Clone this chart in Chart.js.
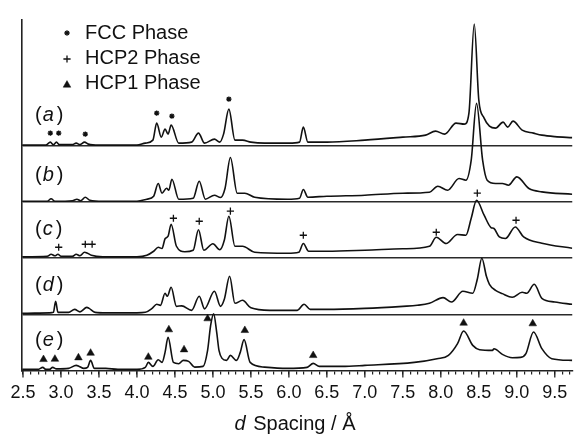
<!DOCTYPE html>
<html><head><meta charset="utf-8">
<script src="https://cdn.jsdelivr.net/npm/chart.js@4.4.1/dist/chart.umd.min.js"></script>
<style>html,body{margin:0;padding:0;background:#fff;}canvas{display:block;}</style>
</head><body>
<canvas id="c" width="578" height="434"></canvas>
<script>
// ---------- DATA (d spacing in Å, intensity in arbitrary units above each pattern's baseline) ----------
const patternNames = ['a', 'b', 'c', 'd', 'e'];
const patternOffsets = [224, 168, 112, 56, 0];       // stacking offset of each pattern
const separatorLevels = [56, 112, 168, 224];          // baselines drawn between patterns

const aD = [2.49,2.80,2.86,2.90,2.94,2.98,3.15,3.20,3.25,3.31,3.36,3.50,4.00,4.11,4.21,4.26,4.32,4.37,4.41,4.45,4.55,4.72,4.81,4.89,5.02,5.09,5.14,5.21,5.29,5.39,5.50,5.68,6.00,6.14,6.19,6.25,6.50,7.00,7.50,7.80,7.93,8.05,8.20,8.31,8.37,8.44,8.50,8.57,8.64,8.72,8.82,8.88,8.95,9.07,9.22,9.33,9.50,9.73];
const aI = [1,1,4,1.5,4,1.5,1.5,3,1.5,4,2,1,1,3,6,23,9,17,12,21,3,4,13,3,7,4,12,37,6,6,4,3,3,4,19,4,4,6,9,11,15,12,23,22,33,122,46,28,20,18,24,19,25,16,13,11,9.5,8.5];

const bD = [2.49,2.82,2.87,2.92,3.15,3.21,3.26,3.32,3.38,3.55,4.00,4.13,4.22,4.28,4.33,4.39,4.42,4.46,4.55,4.74,4.82,4.90,5.02,5.10,5.16,5.23,5.32,5.42,5.55,5.98,6.14,6.19,6.25,6.50,7.00,7.50,7.85,7.96,8.09,8.24,8.33,8.40,8.47,8.55,8.61,8.72,8.81,8.89,9.00,9.16,9.33,9.73];
const bI = [1,1,3.5,1,1.5,3,1.5,5,2,1,1,3,6,18.7,9,14,12,23,3,4,21,3,7,4.7,14,44.7,9,9,5,3,4,12.7,5,6,7,9,10,16,12,23.7,22,42,98.7,42,22,18.7,18.7,17,25.3,13.7,10.3,8];

const cD = [2.49,2.82,2.87,2.92,2.96,3.00,3.15,3.20,3.25,3.31,3.35,3.40,3.55,4.00,4.13,4.22,4.28,4.33,4.37,4.41,4.45,4.52,4.63,4.74,4.81,4.88,5.00,5.09,5.15,5.21,5.29,5.39,5.55,5.98,6.13,6.19,6.26,6.50,7.00,7.50,7.85,7.94,8.07,8.22,8.33,8.40,8.47,8.57,8.66,8.70,8.77,8.85,8.98,9.09,9.33,9.73];
const cI = [1.5,2,4,2.5,4,2,2,4,2.5,6,5,3,1.5,1.5,3,7,11,9.7,19.5,22,34,12,6.5,8,28.5,8,14.5,8.5,18,42,12,12,6,5,6,14.7,7,7,8,9.5,12,21,14.7,23.7,23,40,58,43,30.7,29.7,21.3,19.7,31.3,21.3,15,10];

const dD = [2.49,2.85,2.90,2.93,2.96,3.10,3.18,3.25,3.34,3.37,3.45,3.60,4.00,4.11,4.20,4.26,4.31,4.37,4.40,4.45,4.52,4.59,4.72,4.82,4.89,5.02,5.10,5.15,5.22,5.29,5.39,5.50,5.75,6.11,6.20,6.28,6.50,7.00,7.50,7.69,7.85,8.03,8.14,8.29,8.42,8.48,8.54,8.60,8.64,8.72,8.81,8.94,9.07,9.13,9.23,9.33,9.50,9.73];
const dI = [1,1.5,2,13,2,2,5,2.5,7,6,2,1.5,1.5,2,6,10,9,21,18,27,8,8.5,4,18,5.5,23,8,15,38,11,14,6.5,4,4,10,5,5,6,8,9,11,16.7,12.3,23,21,35,56,38,30,24,20.7,17,22,21,30,16,12.3,10];

const eD = [2.49,2.70,2.76,2.80,2.85,2.89,2.94,3.10,3.20,3.24,3.30,3.35,3.39,3.44,3.59,3.75,4.00,4.11,4.15,4.21,4.28,4.33,4.37,4.41,4.48,4.55,4.61,4.68,4.76,4.87,4.93,4.97,5.01,5.05,5.08,5.12,5.18,5.23,5.31,5.36,5.41,5.49,5.68,5.98,6.24,6.32,6.40,6.70,7.00,7.65,7.95,8.10,8.22,8.30,8.42,8.51,8.68,8.70,8.81,8.94,9.05,9.12,9.22,9.33,9.46,9.73];
const eI = [1,1,3,1,1,3,1.5,2,5,4,2,3,10,2,2,1,1,3,8,4,10.7,8,18,33,8,6.7,10,9,3.3,4,20,45,56.5,38,20,12,10,15,10,18,30.7,8,3.3,2,3,7,4,4,5,8,11.7,15,26.7,39.3,25,20.7,20,21.7,16,12.7,13,16.7,38.3,21.7,11.7,10];

// Phase markers: position (Å) and height above the marked pattern's baseline
const fccD  = [2.86, 2.97, 3.32, 4.26, 4.46, 5.21, 8.44];
const fccH  = [13, 13, 12, 33, 30, 47, 131];
const hcp2D = [2.97, 3.32, 3.41, 4.48, 4.82, 5.23, 6.19, 7.94, 8.48, 8.99];
const hcp2H = [11, 14, 14, 40, 37, 47, 23, 26, 65, 38];
const hcp1D = [2.77, 2.92, 3.23, 3.39, 4.15, 4.42, 4.62, 4.93, 5.42, 6.32, 8.30, 9.21];
const hcp1H = [11, 11.3, 12.7, 17.3, 13.3, 40.7, 20.7, 51.7, 40, 15, 47.3, 46.7];

const legendLabels = ['FCC Phase', 'HCP2 Phase', 'HCP1 Phase'];
const xTitleItalic = 'd';
const xTitleRest = 'Spacing / Å';

// ---------- BUILD ----------
const FONT = '"Liberation Sans", Arial, Helvetica, sans-serif';
const INK = '#111';
const patternD = [aD, bD, cD, dD, eD];
const patternI = [aI, bI, cI, dI, eI];

const datasets = patternNames.map((n, k) => ({
  type: 'line',
  label: '(' + n + ')',
  data: patternD[k].map((x, i) => ({ x, y: patternI[k][i] + patternOffsets[k] })),
  borderColor: INK, borderWidth: 1.6, pointRadius: 0,
  cubicInterpolationMode: 'monotone', fill: false
}));

const markerSets = [
  { label: legendLabels[0], d: fccD, h: fccH, off: patternOffsets[0], style: 'star', r: 2.7, bw: 1.3 },
  { label: legendLabels[1], d: hcp2D, h: hcp2H, off: patternOffsets[2], style: 'cross', r: 3.6, bw: 1.3 },
  { label: legendLabels[2], d: hcp1D, h: hcp1H, off: patternOffsets[4], style: 'triangle', r: 4.4, bw: 0.5 }
];
markerSets.forEach(m => datasets.push({
  type: 'scatter', label: m.label,
  data: m.d.map((x, i) => ({ x, y: m.h[i] + m.off })),
  pointStyle: m.style, pointRadius: m.r, borderWidth: m.bw,
  borderColor: INK, backgroundColor: INK, showLine: false
}));

const isMajor = v => Math.abs(v * 2 - Math.round(v * 2)) < 1e-6;

const decor = {
  id: 'decor',
  afterDraw(chart) {
    const ctx = chart.ctx, xs = chart.scales.x, ca = chart.chartArea;
    ctx.save();
    // longer major tick marks
    ctx.strokeStyle = '#222'; ctx.lineWidth = 1.3;
    xs.ticks.forEach(t => {
      if (isMajor(t.value)) {
        const px = xs.getPixelForValue(t.value);
        ctx.beginPath(); ctx.moveTo(px, ca.bottom); ctx.lineTo(px, ca.bottom + 7); ctx.stroke();
      }
    });
    // phase key
    const keyY = [33, 58, 83];
    markerSets.forEach((m, i) => {
      ctx.fillStyle = INK; ctx.strokeStyle = INK; ctx.lineWidth = m.bw;
      const sy = keyY[i] + (m.style === 'triangle' ? 2 : (m.style === 'star' ? 0 : 1));
      if (Chart.helpers && Chart.helpers.drawPoint) {
        Chart.helpers.drawPoint(ctx, { pointStyle: m.style, radius: m.r, borderWidth: m.bw, rotation: 0 }, 67, sy);
      }
      ctx.fillStyle = INK;
      ctx.font = '20px ' + FONT;
      ctx.textBaseline = 'middle'; ctx.textAlign = 'left';
      ctx.fillText(m.label, 85, keyY[i]);
    });
    // pattern labels (a)…(e)
    const labelY = [115, 175, 229, 285, 340];
    patternNames.forEach((n, k) => {
      let x = 35;
      ctx.textBaseline = 'middle'; ctx.textAlign = 'left';
      ctx.font = '20px ' + FONT;
      ctx.fillText('(', x, labelY[k]);
      x += ctx.measureText('(').width + 1;
      ctx.font = 'italic 20px ' + FONT;
      ctx.fillText(n, x, labelY[k]);
      x += ctx.measureText(n).width + 3;
      ctx.font = '20px ' + FONT;
      ctx.fillText(')', x, labelY[k]);
    });
    // x-axis title
    ctx.font = 'italic 20px ' + FONT;
    const w1 = ctx.measureText(xTitleItalic + ' ').width;
    ctx.font = '20px ' + FONT;
    const w2 = ctx.measureText(xTitleRest).width;
    const x0 = 294 - (w1 + w2) / 2;
    ctx.textBaseline = 'alphabetic';
    ctx.font = 'italic 20px ' + FONT;
    ctx.fillText(xTitleItalic, x0, 430);
    ctx.font = '20px ' + FONT;
    ctx.fillText(xTitleRest, x0 + w1 + 2, 430);
    ctx.restore();
  }
};

new Chart(document.getElementById('c'), {
  data: { datasets },
  options: {
    responsive: false, animation: false, devicePixelRatio: 1,
    layout: { padding: { left: 22, right: 1, top: 20, bottom: 22 } },
    plugins: { legend: { display: false }, tooltip: { enabled: false } },
    scales: {
      x: {
        type: 'linear', position: 'bottom', min: 2.487, max: 9.73,
        ticks: {
          stepSize: 0.1, includeBounds: false, autoSkip: false, maxRotation: 0, minRotation: 0,
          padding: 8, color: INK, font: { size: 18, family: FONT },
          callback: v => isMajor(v) ? (Math.round(v * 2) / 2).toFixed(1) : ''
        },
        grid: { drawOnChartArea: false, drawTicks: true, tickLength: 4, color: '#222', lineWidth: 1.2 },
        border: { display: true, color: '#222', width: 1.6 }
      },
      y: {
        type: 'linear', min: 0, max: 350,
        afterBuildTicks: ax => { ax.ticks = separatorLevels.map(v => ({ value: v })); },
        ticks: { display: false },
        grid: { drawTicks: false, color: '#2a2a2a', lineWidth: 1.6 },
        border: { display: true, color: '#222', width: 1.6 }
      }
    }
  },
  plugins: [decor]
});
</script>
</body></html>
